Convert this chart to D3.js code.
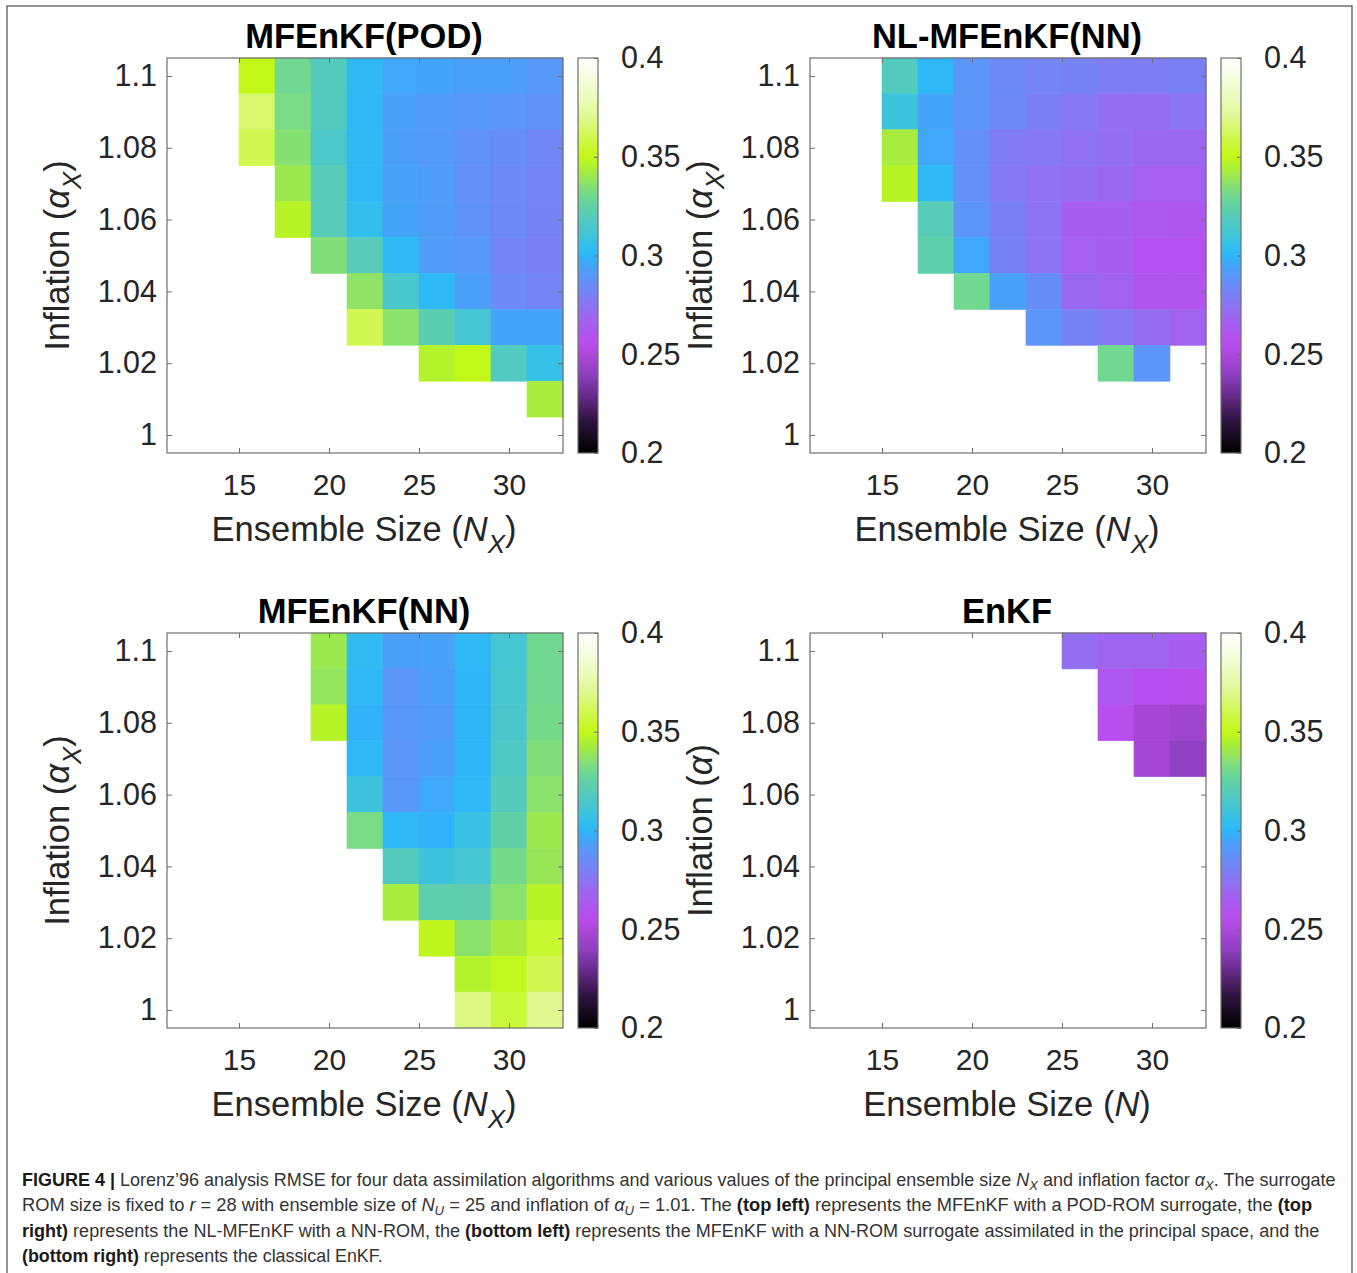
<!DOCTYPE html>
<html>
<head>
<meta charset="utf-8">
<script src="https://cdnjs.cloudflare.com/ajax/libs/d3/7.8.5/d3.min.js"></script>
<style>
  body { margin: 0; background: #fff; }
  svg { display: block; }
</style>
</head>
<body>
<div id="chart"></div>
<script>
    // grid axes
    const ensembleSizes = [12, 14, 16, 18, 20, 22, 24, 26, 28, 30, 32];
    const inflations = [1.10, 1.09, 1.08, 1.07, 1.06, 1.05, 1.04, 1.03, 1.02, 1.01, 1.00];
    const xTicks = [15, 20, 25, 30];
    const yTicks = [1, 1.02, 1.04, 1.06, 1.08, 1.1];
    const cbarTicks = [0.2, 0.25, 0.3, 0.35, 0.4];

    // RMSE values, one row per inflation (top row = 1.10), null = no result
    const _ = null;
    const podRMSE = [
        [_, _, 0.350, 0.330, 0.318, 0.302, 0.296, 0.295, 0.293, 0.293, 0.290],
        [_, _, 0.365, 0.332, 0.318, 0.301, 0.293, 0.292, 0.290, 0.289, 0.288],
        [_, _, 0.360, 0.335, 0.315, 0.302, 0.293, 0.291, 0.288, 0.286, 0.283],
        [_, _, _, 0.340, 0.320, 0.301, 0.294, 0.292, 0.287, 0.284, 0.282],
        [_, _, _, 0.347, 0.320, 0.304, 0.295, 0.292, 0.288, 0.284, 0.281],
        [_, _, _, _, 0.334, 0.320, 0.301, 0.292, 0.290, 0.282, 0.280],
        [_, _, _, _, _, 0.337, 0.314, 0.301, 0.293, 0.284, 0.282],
        [_, _, _, _, _, 0.360, 0.336, 0.322, 0.312, 0.295, 0.295],
        [_, _, _, _, _, _, _, 0.346, 0.350, 0.317, 0.306],
        [_, _, _, _, _, _, _, _, _, _, 0.343],
        [_, _, _, _, _, _, _, _, _, _, _]
    ];
    const nlRMSE = [
        [_, _, 0.318, 0.301, 0.289, 0.284, 0.282, 0.281, 0.279, 0.279, 0.280],
        [_, _, 0.309, 0.295, 0.289, 0.284, 0.280, 0.277, 0.273, 0.273, 0.275],
        [_, _, 0.343, 0.296, 0.287, 0.278, 0.277, 0.274, 0.273, 0.270, 0.270],
        [_, _, 0.347, 0.301, 0.287, 0.277, 0.274, 0.273, 0.270, 0.266, 0.266],
        [_, _, _, 0.320, 0.289, 0.280, 0.275, 0.265, 0.265, 0.262, 0.261],
        [_, _, _, 0.323, 0.296, 0.281, 0.275, 0.266, 0.265, 0.259, 0.259],
        [_, _, _, _, 0.330, 0.294, 0.286, 0.270, 0.267, 0.260, 0.260],
        [_, _, _, _, _, _, 0.289, 0.281, 0.277, 0.272, 0.267],
        [_, _, _, _, _, _, _, _, 0.330, 0.289, _],
        [_, _, _, _, _, _, _, _, _, _, _],
        [_, _, _, _, _, _, _, _, _, _, _]
    ];
    const nnRMSE = [
        [_, _, _, _, 0.340, 0.303, 0.293, 0.294, 0.301, 0.312, 0.330],
        [_, _, _, _, 0.338, 0.301, 0.289, 0.293, 0.300, 0.313, 0.330],
        [_, _, _, _, 0.347, 0.299, 0.290, 0.292, 0.300, 0.314, 0.331],
        [_, _, _, _, _, 0.301, 0.289, 0.293, 0.300, 0.316, 0.334],
        [_, _, _, _, _, 0.309, 0.290, 0.296, 0.301, 0.319, 0.336],
        [_, _, _, _, _, 0.332, 0.301, 0.299, 0.307, 0.324, 0.340],
        [_, _, _, _, _, _, 0.318, 0.309, 0.312, 0.331, 0.339],
        [_, _, _, _, _, _, 0.343, 0.323, 0.323, 0.336, 0.347],
        [_, _, _, _, _, _, _, 0.349, 0.336, 0.343, 0.354],
        [_, _, _, _, _, _, _, _, 0.346, 0.351, 0.360],
        [_, _, _, _, _, _, _, _, 0.368, 0.356, 0.370]
    ];
    const enkfRMSE = [
        [_, _, _, _, _, _, _, 0.273, 0.268, 0.268, 0.264],
        [_, _, _, _, _, _, _, _, 0.262, 0.257, 0.256],
        [_, _, _, _, _, _, _, _, 0.256, 0.248, 0.245],
        [_, _, _, _, _, _, _, _, _, 0.248, 0.240],
        [_, _, _, _, _, _, _, _, _, _, _],
        [_, _, _, _, _, _, _, _, _, _, _],
        [_, _, _, _, _, _, _, _, _, _, _],
        [_, _, _, _, _, _, _, _, _, _, _],
        [_, _, _, _, _, _, _, _, _, _, _],
        [_, _, _, _, _, _, _, _, _, _, _],
        [_, _, _, _, _, _, _, _, _, _, _]
    ];

    // colormap stops (black -> purple -> blue -> green -> yellow -> white)
    const cmapStops = [0.200, 0.215, 0.230, 0.240, 0.250, 0.255, 0.260, 0.265, 0.270, 0.275, 0.280, 0.285,
                       0.290, 0.295, 0.300, 0.305, 0.310, 0.315, 0.320, 0.325, 0.330, 0.335, 0.340, 0.345,
                       0.350, 0.360, 0.370, 0.385, 0.400];
    const cmapColors = ["#000000", "#2a1238", "#6a2c90", "#9040c0", "#ac48dc", "#b84cee", "#b254f0", "#a65ef0",
                        "#9a68f0", "#8c74f4", "#7a80f4", "#6a8cf6", "#5898f8", "#44a4f8", "#2cb6f8", "#34c0ec",
                        "#40c4d8", "#4cc8c8", "#58ccb8", "#62d0a4", "#70d890", "#86e074", "#9ce850", "#b0f030",
                        "#c2f818", "#d0f850", "#e0f890", "#f0fcd0", "#ffffff"];

    const color = d3.scaleLinear().domain(cmapStops).range(cmapColors).interpolate(d3.interpolateRgb).clamp(true);

    const W = 1357, H = 1273;
    const axW = 396, axH = 395;
    const svg = d3.select("#chart").append("svg").attr("width", W).attr("height", H);

    // outer frame
    svg.append("rect").attr("x", 7).attr("y", 6).attr("width", 1345).attr("height", 1300)
        .attr("fill", "none").attr("stroke", "#5a5a5a").attr("stroke-width", 1.3);

    const defs = svg.append("defs");
    const grad = defs.append("linearGradient").attr("id", "cmap")
        .attr("x1", 0).attr("y1", 1).attr("x2", 0).attr("y2", 0);
    grad.selectAll("stop").data(d3.range(0, 1.0001, 0.01)).join("stop")
        .attr("offset", d => d)
        .attr("stop-color", d => color(0.2 + 0.2 * d));

    const x = d3.scaleLinear().domain([11, 33]).range([0, axW]);
    const y = d3.scaleLinear().domain([0.995, 1.105]).range([axH, 0]);
    const cy = d3.scaleLinear().domain([0.2, 0.4]).range([axH, 0]);

    const FONT = "'Liberation Sans', Arial, Helvetica, sans-serif";
    const TXT = "#262626";

    const panels = [
        {title: "MFEnKF(POD)", data: podRMSE, left: 167, top: 58, sub: "X"},
        {title: "NL-MFEnKF(NN)", data: nlRMSE, left: 810, top: 58, sub: "X"},
        {title: "MFEnKF(NN)", data: nnRMSE, left: 167, top: 633, sub: "X"},
        {title: "EnKF", data: enkfRMSE, left: 810, top: 633, sub: null}
    ];

    function styleAxis(g, size) {
        g.attr("font-family", FONT).attr("font-size", size);
        g.selectAll("text").attr("fill", TXT);
        g.selectAll("line").attr("stroke", "#6e6e6e");
        g.select(".domain").remove();
    }

    // label with italic symbol and italic subscript
    function mathLabel(t, plain, sym, sub) {
        t.append("tspan").text(plain);
        t.append("tspan").attr("font-style", "italic").text(sym);
        if (sub) {
            t.append("tspan").attr("font-style", "italic").attr("font-size", 26).attr("dy", 12).text(sub);
            t.append("tspan").attr("dy", -12).text(")");
        } else {
            t.append("tspan").text(")");
        }
    }

    panels.forEach(p => {
        const g = svg.append("g").attr("transform", "translate(" + p.left + "," + p.top + ")");

        // cells
        const cells = [];
        p.data.forEach((row, i) => row.forEach((v, j) => {
            if (v !== null) cells.push({n: ensembleSizes[j], a: inflations[i], v: v});
        }));
        g.selectAll("rect.cell").data(cells).join("rect")
            .attr("class", "cell")
            .attr("x", d => x(d.n - 1))
            .attr("y", d => y(d.a + 0.005))
            .attr("width", d => x(d.n + 1) - x(d.n - 1))
            .attr("height", d => y(d.a - 0.005) - y(d.a + 0.005))
            .attr("fill", d => color(d.v))
            .attr("stroke", d => color(d.v))
            .attr("stroke-width", 0.6);

        // axes
        const xb = g.append("g").attr("transform", "translate(0," + axH + ")")
            .call(d3.axisBottom(x).tickValues(xTicks).tickSizeInner(-5).tickSizeOuter(0).tickPadding(21));
        styleAxis(xb, 30);
        const xt = g.append("g")
            .call(d3.axisTop(x).tickValues(xTicks).tickSizeInner(-5).tickSizeOuter(0).tickFormat(""));
        styleAxis(xt, 30);
        const yl = g.append("g")
            .call(d3.axisLeft(y).tickValues(yTicks).tickSizeInner(-5).tickSizeOuter(0).tickPadding(10)
                .tickFormat(d => String(+d.toFixed(2))));
        styleAxis(yl, 30.5);
        const yr = g.append("g").attr("transform", "translate(" + axW + ",0)")
            .call(d3.axisRight(y).tickValues(yTicks).tickSizeInner(-5).tickSizeOuter(0).tickFormat(""));
        styleAxis(yr, 30);

        g.append("rect").attr("width", axW).attr("height", axH)
            .attr("fill", "none").attr("stroke", "#6e6e6e").attr("stroke-width", 1.2);

        // title
        g.append("text").attr("x", axW / 2 - 1).attr("y", -10)
            .attr("text-anchor", "middle").attr("font-family", FONT)
            .attr("font-size", 34.5).attr("font-weight", "bold").attr("fill", "#000")
            .text(p.title);

        // x label
        const xlab = g.append("text").attr("x", axW / 2 - 1).attr("y", axH + 88)
            .attr("text-anchor", "middle").attr("font-family", FONT)
            .attr("font-size", 34.5).attr("fill", TXT);
        mathLabel(xlab, "Ensemble Size (", "N", p.sub);

        // y label
        const ylab = g.append("text")
            .attr("transform", "translate(-98," + (axH / 2) + ") rotate(-90)")
            .attr("text-anchor", "middle").attr("font-family", FONT)
            .attr("font-size", 34.5).attr("fill", TXT);
        mathLabel(ylab, "Inflation (", "α", p.sub);

        // colorbar
        const cb = g.append("g").attr("transform", "translate(411,0)");
        cb.append("rect").attr("width", 20).attr("height", axH).attr("fill", "url(#cmap)");
        const ca = cb.append("g").attr("transform", "translate(20,0)")
            .call(d3.axisRight(cy).tickValues(cbarTicks).tickSizeInner(-4).tickSizeOuter(0).tickPadding(23)
                .tickFormat(d => String(d)));
        styleAxis(ca, 30.5);
        cb.append("rect").attr("width", 20).attr("height", axH)
            .attr("fill", "none").attr("stroke", "#6e6e6e").attr("stroke-width", 1.2);
    });

    // caption
    const captionLines = [
        {base: 1186, width: 1314, segs: [
            {t: "FIGURE 4 |", b: 1}, {t: " Lorenz’96 analysis RMSE for four data assimilation algorithms and various values of the principal ensemble size "},
            {t: "N", i: 1}, {t: "X", i: 1, s: 1}, {t: " and inflation factor "}, {t: "α", i: 1}, {t: "X", i: 1, s: 1}, {t: ". The surrogate"}]},
        {base: 1211, width: 1291, segs: [
            {t: "ROM size is fixed to "}, {t: "r", i: 1}, {t: " = 28 with ensemble size of "}, {t: "N", i: 1}, {t: "U", i: 1, s: 1},
            {t: " = 25 and inflation of "}, {t: "α", i: 1}, {t: "U", i: 1, s: 1}, {t: " = 1.01. The "}, {t: "(top left)", b: 1},
            {t: " represents the MFEnKF with a POD-ROM surrogate, the "}, {t: "(top", b: 1}]},
        {base: 1237, width: 1298, segs: [
            {t: "right)", b: 1}, {t: " represents the NL-MFEnKF with a NN-ROM, the "}, {t: "(bottom left)", b: 1},
            {t: " represents the MFEnKF with a NN-ROM surrogate assimilated in the principal space, and the"}]},
        {base: 1262, width: 361, segs: [
            {t: "(bottom right)", b: 1}, {t: " represents the classical EnKF."}]}
    ];

    captionLines.forEach(line => {
        const g = svg.append("g");
        const t = g.append("text").attr("font-family", FONT).attr("font-size", 18).attr("fill", "#333");
        let down = false;
        line.segs.forEach(s => {
            const ts = t.append("tspan").text(s.t);
            if (s.b) ts.attr("font-weight", "bold").attr("fill", "#1a1a1a");
            if (s.i) ts.attr("font-style", "italic");
            if (s.s) { ts.attr("font-size", 13).attr("dy", 4); down = true; }
            else if (down) { ts.attr("dy", -4); down = false; }
        });
        const w = t.node().getComputedTextLength();
        g.attr("transform", "translate(22," + line.base + ") scale(" + (line.width / w) + ",1)");
    });
</script>
</body>
</html>
